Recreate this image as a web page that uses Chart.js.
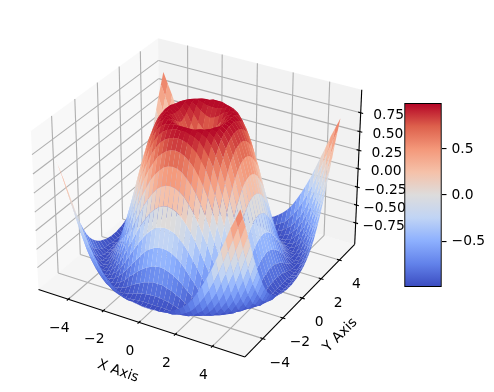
<!DOCTYPE html>
<html>
<head>
<meta charset="utf-8">
<style>
  html, body { margin: 0; padding: 0; background: #fff; }
  #wrap { position: relative; width: 494px; height: 392px; overflow: hidden; }
  canvas { position: absolute; }
</style>
<script src="https://cdn.jsdelivr.net/npm/chart.js@4/dist/chart.umd.js"></script>
</head>
<body>
<div id="wrap">
  <canvas id="surface" width="494" height="392" style="left:0;top:0"></canvas>
  <canvas id="colorbar" width="94" height="210" style="left:400px;top:90px"></canvas>
</div>
<script>
// surface samples
const xValues = [-5,-4.75,-4.5,-4.25,-4,-3.75,-3.5,-3.25,-3,-2.75,-2.5,-2.25,-2,-1.75,-1.5,-1.25,-1,-0.75,-0.5,-0.25,0,0.25,0.5,0.75,1,1.25,1.5,1.75,2,2.25,2.5,2.75,3,3.25,3.5,3.75,4,4.25,4.5,4.75,5];
const yValues = xValues;
// heights read for one quadrant, row = |x|/0.25, column = |y|/0.25 (the surface is mirrored in both axes)
const zQuadrant = [
  [0,.25,.48,.68,.84,.95,1,.98,.91,.78,.6,.38,.14,-.11,-.35,-.57,-.76,-.9,-.98,-1,-.96],
  [.25,.35,.53,.71,.86,.95,1,.98,.9,.77,.59,.37,.13,-.12,-.36,-.58,-.76,-.9,-.98,-1,-.96],
  [.48,.53,.65,.78,.9,.97,1,.96,.88,.74,.56,.34,.1,-.14,-.38,-.6,-.78,-.91,-.98,-1,-.95],
  [.68,.71,.78,.87,.95,.99,.99,.94,.84,.69,.5,.29,.05,-.19,-.42,-.63,-.8,-.92,-.98,-.99,-.94],
  [.84,.86,.9,.95,.98,1,.97,.9,.79,.63,.43,.21,-.02,-.25,-.47,-.67,-.83,-.94,-.99,-.98,-.92],
  [.95,.95,.97,.99,1,.98,.93,.83,.7,.53,.34,.12,-.11,-.33,-.54,-.72,-.86,-.96,-1,-.98,-.9],
  [1,1,1,.99,.97,.93,.85,.74,.6,.42,.22,.01,-.21,-.42,-.62,-.78,-.9,-.98,-1,-.96,-.87],
  [.98,.98,.96,.94,.9,.83,.74,.62,.46,.29,.09,-.12,-.32,-.52,-.69,-.83,-.94,-.99,-.99,-.94,-.83],
  [.91,.9,.88,.84,.79,.7,.6,.46,.31,.13,-.06,-.25,-.45,-.62,-.78,-.9,-.97,-1,-.98,-.9,-.78],
  [.78,.77,.74,.69,.63,.53,.42,.29,.13,-.04,-.22,-.4,-.57,-.72,-.85,-.94,-.99,-.99,-.95,-.86,-.72],
  [.6,.59,.56,.5,.43,.34,.22,.09,-.06,-.22,-.38,-.54,-.69,-.82,-.91,-.98,-1,-.97,-.9,-.79,-.64],
  [.38,.37,.34,.29,.21,.12,.01,-.12,-.25,-.4,-.54,-.67,-.8,-.9,-.96,-.99,-.98,-.94,-.85,-.71,-.54],
  [.14,.13,.1,.05,-.02,-.11,-.21,-.32,-.45,-.57,-.69,-.8,-.89,-.95,-.99,-.99,-.96,-.88,-.76,-.61,-.43],
  [-.11,-.12,-.14,-.19,-.25,-.33,-.42,-.52,-.62,-.72,-.82,-.9,-.95,-.99,-1,-.97,-.9,-.8,-.67,-.5,-.31],
  [-.35,-.36,-.38,-.42,-.47,-.54,-.62,-.69,-.78,-.85,-.91,-.96,-.99,-1,-.97,-.91,-.82,-.7,-.55,-.37,-.18],
  [-.57,-.58,-.6,-.63,-.67,-.72,-.78,-.83,-.9,-.94,-.98,-.99,-.99,-.97,-.91,-.83,-.72,-.57,-.41,-.23,-.03],
  [-.76,-.76,-.78,-.8,-.83,-.86,-.9,-.94,-.97,-.99,-1,-.98,-.96,-.9,-.82,-.72,-.59,-.43,-.26,-.07,.12],
  [-.9,-.9,-.91,-.92,-.94,-.96,-.98,-.99,-1,-.99,-.97,-.94,-.88,-.8,-.7,-.57,-.43,-.27,-.09,.09,.27],
  [-.98,-.98,-.98,-.98,-.99,-1,-1,-.99,-.98,-.95,-.9,-.85,-.76,-.67,-.55,-.41,-.26,-.09,.08,.25,.43],
  [-1,-1,-1,-.99,-.98,-.98,-.96,-.94,-.9,-.86,-.79,-.71,-.61,-.5,-.37,-.23,-.07,.09,.25,.42,.57],
  [-.96,-.96,-.95,-.94,-.92,-.9,-.87,-.83,-.78,-.72,-.64,-.54,-.43,-.31,-.18,-.03,.12,.27,.43,.57,.71]
];

const xTicks = [-4,-2,0,2,4];
const yTicks = [-4,-2,0,2,4];
const zTicks = [-0.75,-0.5,-0.25,0,0.25,0.5,0.75];
const colorbarTicks = [-0.5,0,0.5];
const colorbarRange = [-0.995,0.995];

const xLim = [-5.5,5.5];
const yLim = [-5.5,5.5];
const zLim = [-1.01,1.01];

// coolwarm
const coolwarm = ['#3b4cc0','#6282ea','#8db0fe','#c0d4f5','#dddcdc','#f5c1a9','#f4987a','#dd604c','#b40426'];

const FONT = '13.89px "DejaVu Sans"';
const PX_PER_UNIT = 1998;
const CENTER_X = 199.5, CENTER_Y = 190;

function hexRgb(h) {
    return [parseInt(h.slice(1,3),16), parseInt(h.slice(3,5),16), parseInt(h.slice(5,7),16)];
}
function coolwarmColor(t) {
    t = Math.min(1, Math.max(0, t)) * (coolwarm.length - 1);
    let i = Math.min(coolwarm.length - 2, Math.floor(t));
    let a = hexRgb(coolwarm[i]), b = hexRgb(coolwarm[i+1]), f = t - i;
    return 'rgb(' + a.map((c,k) => Math.round(c + (b[k]-c)*f)).join(',') + ')';
}

// matplotlib style 3d view, elev 30 azim -60, distance 10
const box = [1.137,1.137,0.868];
const el = 30*Math.PI/180, az = -60*Math.PI/180;
const wAxis = [Math.cos(el)*Math.cos(az), Math.cos(el)*Math.sin(az), Math.sin(el)];
const uAxis = [-wAxis[1], wAxis[0], 0].map(c => c/Math.hypot(wAxis[0],wAxis[1]));
const vAxis = [
    wAxis[1]*uAxis[2]-wAxis[2]*uAxis[1],
    wAxis[2]*uAxis[0]-wAxis[0]*uAxis[2],
    wAxis[0]*uAxis[1]-wAxis[1]*uAxis[0]
];
function dot(a,b) { return a[0]*b[0]+a[1]*b[1]+a[2]*b[2]; }
function view(x,y,z) {
    let p = [
        ((x-xLim[0])/(xLim[1]-xLim[0])-0.5)*box[0],
        ((y-yLim[0])/(yLim[1]-yLim[0])-0.5)*box[1],
        ((z-zLim[0])/(zLim[1]-zLim[0])-0.5)*box[2]
    ];
    let depth = 10 - dot(wAxis,p);
    return {x: dot(uAxis,p)/depth, y: dot(vAxis,p)/depth, depth: depth};
}

// pane limits sit 1/48 outside the axis limits
const xPane = [xLim[0]-(xLim[1]-xLim[0])/48, xLim[1]+(xLim[1]-xLim[0])/48];
const yPane = [yLim[0]-(yLim[1]-yLim[0])/48, yLim[1]+(yLim[1]-yLim[0])/48];
const zPane = [zLim[0]-(zLim[1]-zLim[0])/48, zLim[1]+(zLim[1]-zLim[0])/48];

function polygon(points, color, edge, width) {
    let data = points.map(p => view(p[0],p[1],p[2]));
    data.push(data[0]);
    return {data: data, fill: 'shape', backgroundColor: color, borderColor: edge || color, borderWidth: width || 0};
}
function segment(a, b, color, width) {
    return {data: [view(a[0],a[1],a[2]), view(b[0],b[1],b[2])], fill: false, borderColor: color, borderWidth: width};
}

// paint order: first pushed is at the back
let layers = [];
layers.push(polygon([[xPane[0],yPane[0],zPane[0]],[xPane[0],yPane[1],zPane[0]],[xPane[0],yPane[1],zPane[1]],[xPane[0],yPane[0],zPane[1]]], 'rgba(242,242,242,0.5)'));
layers.push(polygon([[xPane[0],yPane[1],zPane[0]],[xPane[1],yPane[1],zPane[0]],[xPane[1],yPane[1],zPane[1]],[xPane[0],yPane[1],zPane[1]]], 'rgba(230,230,230,0.5)'));
layers.push(polygon([[xPane[0],yPane[0],zPane[0]],[xPane[1],yPane[0],zPane[0]],[xPane[1],yPane[1],zPane[0]],[xPane[0],yPane[1],zPane[0]]], 'rgba(236,236,236,0.5)'));

const GRID = '#b0b0b0', GRID_W = 1.11;
xTicks.forEach(t => {
    layers.push(segment([t,yPane[0],zPane[0]],[t,yPane[1],zPane[0]],GRID,GRID_W));
    layers.push(segment([t,yPane[1],zPane[0]],[t,yPane[1],zPane[1]],GRID,GRID_W));
});
yTicks.forEach(t => {
    layers.push(segment([xPane[1],t,zPane[0]],[xPane[0],t,zPane[0]],GRID,GRID_W));
    layers.push(segment([xPane[0],t,zPane[0]],[xPane[0],t,zPane[1]],GRID,GRID_W));
});
zTicks.forEach(t => {
    layers.push(segment([xPane[0],yPane[0],t],[xPane[0],yPane[1],t],GRID,GRID_W));
    layers.push(segment([xPane[0],yPane[1],t],[xPane[1],yPane[1],t],GRID,GRID_W));
});

// axis lines and tick marks
const INK = '#000000', INK_W = 1.11;
layers.push(segment([xPane[0],yPane[0],zPane[0]],[xPane[1],yPane[0],zPane[0]],INK,INK_W));
layers.push(segment([xPane[1],yPane[0],zPane[0]],[xPane[1],yPane[1],zPane[0]],INK,INK_W));
layers.push(segment([xPane[1],yPane[1],zPane[0]],[xPane[1],yPane[1],zPane[1]],INK,INK_W));
const dx = (xLim[1]-xLim[0])*0.012, dy = (yLim[1]-yLim[0])*0.012;
xTicks.forEach(t => layers.push(segment([t,yPane[0]+dy,zPane[0]],[t,yPane[0]-dy,zPane[0]],INK,INK_W)));
yTicks.forEach(t => layers.push(segment([xPane[1]-dx,t,zPane[0]],[xPane[1]+dx,t,zPane[0]],INK,INK_W)));
zTicks.forEach(t => layers.push(segment([xPane[1]-dx,yPane[1],t],[xPane[1]+dx,yPane[1],t],INK,INK_W)));

// surface quads, far ones first
function zAt(i,j) {
    return zQuadrant[Math.round(Math.abs(xValues[i])*4)][Math.round(Math.abs(yValues[j])*4)];
}
let quads = [];
for (let i = 0; i < xValues.length-1; i++) {
    for (let j = 0; j < yValues.length-1; j++) {
        let corners = [[i,j],[i+1,j],[i+1,j+1],[i,j+1]].map(c => [xValues[c[0]],yValues[c[1]],zAt(c[0],c[1])]);
        let meanZ = corners.reduce((s,c) => s+c[2],0)/4;
        let depth = corners.reduce((s,c) => s+view(c[0],c[1],c[2]).depth,0)/4;
        let color = coolwarmColor((meanZ-colorbarRange[0])/(colorbarRange[1]-colorbarRange[0]));
        quads.push({depth: depth, set: polygon(corners,color)});
    }
}
quads.sort((a,b) => b.depth-a.depth);
quads.forEach(q => layers.push(q.set));

// chart.js paints the first dataset on top
let datasets = layers.reverse().map(d => Object.assign({showLine:true, pointRadius:0, tension:0, clip:false}, d));

function tickText(v, digits) {
    return (v < 0 ? '\u2212' : '') + Math.abs(v).toFixed(digits);
}
const textPlugin = {
    id: 'axisText',
    afterDatasetsDraw(chart) {
        let ctx = chart.ctx, sx = chart.scales.x, sy = chart.scales.y;
        function place(p) { let v = view(p[0],p[1],p[2]); return [sx.getPixelForValue(v.x), sy.getPixelForValue(v.y)]; }
        function label(str, at, ox, oy, rot) {
            ctx.save();
            ctx.translate(at[0]+ox, at[1]+oy);
            ctx.rotate((rot||0)*Math.PI/180);
            ctx.font = FONT;
            ctx.fillStyle = '#000';
            ctx.textAlign = 'center';
            ctx.textBaseline = 'middle';
            ctx.fillText(str, 0, 0);
            ctx.restore();
        }
        xTicks.forEach(t => label(tickText(t,0), place([t,yPane[0],zPane[0]]), -9, 29));
        yTicks.forEach(t => label(tickText(t,0), place([xPane[1],t,zPane[0]]), 17, 24.5));
        zTicks.forEach(t => label(tickText(t,2), place([xPane[1],yPane[1],t]), 28, 3));
        label('X Axis', place([(xPane[0]+xPane[1])/2,yPane[0],zPane[0]]), -21, 49, 20);
        label('Y Axis', place([xPane[1],(yPane[0]+yPane[1])/2,zPane[0]]), 38, 37, -45);
    }
};

new Chart(document.getElementById('surface').getContext('2d'), {
    type: 'scatter',
    data: {datasets: datasets},
    plugins: [textPlugin],
    options: {
        responsive: false,
        animation: false,
        events: [],
        layout: {padding: 0},
        plugins: {legend: {display: false}, tooltip: {enabled: false}},
        scales: {
            x: {type: 'linear', display: false, min: -CENTER_X/PX_PER_UNIT, max: (494-CENTER_X)/PX_PER_UNIT},
            y: {type: 'linear', display: false, min: -(392-CENTER_Y)/PX_PER_UNIT, max: CENTER_Y/PX_PER_UNIT}
        }
    }
});

new Chart(document.getElementById('colorbar').getContext('2d'), {
    type: 'bar',
    data: {
        labels: [''],
        datasets: [{
            data: [colorbarRange],
            borderColor: '#000',
            borderWidth: 1.11,
            borderSkipped: false,
            barPercentage: 1,
            categoryPercentage: 1,
            clip: false,
            backgroundColor(c) {
                let area = c.chart.chartArea;
                if (!area) return '#ddd';
                let g = c.chart.ctx.createLinearGradient(0, area.bottom, 0, area.top);
                coolwarm.forEach((col,i) => g.addColorStop(i/(coolwarm.length-1), col));
                return g;
            }
        }]
    },
    options: {
        responsive: false,
        animation: false,
        events: [],
        layout: {padding: {left: 4.5, top: 12.5, bottom: 12.5, right: 0}},
        plugins: {legend: {display: false}, tooltip: {enabled: false}},
        scales: {
            x: {display: false},
            y: {
                position: 'right',
                min: colorbarRange[0],
                max: colorbarRange[1],
                afterBuildTicks(axis) { axis.ticks = colorbarTicks.map(v => ({value: v})); },
                afterFit(axis) { axis.width = 52.5; },
                border: {display: false},
                grid: {drawOnChartArea: false, color: '#000', lineWidth: 1.11, tickLength: 5},
                ticks: {
                    color: '#000',
                    padding: 5,
                    font: {family: '"DejaVu Sans"', size: 13.89},
                    callback: v => tickText(v,1)
                }
            }
        }
    }
});
</script>
</body>
</html>
